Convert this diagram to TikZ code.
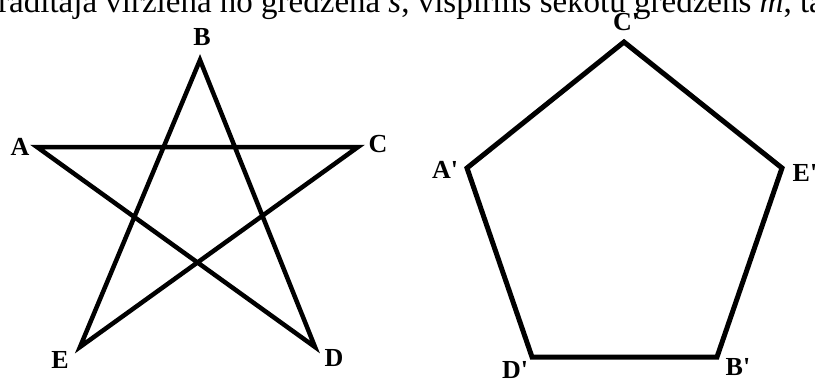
\documentclass[tikz,border=0pt]{standalone}
\usepackage{fontspec}
\setmainfont{Liberation Serif}
\usepackage{tikz}
\newcommand{\pr}{\textquotesingle}

\begin{document}
\begin{tikzpicture}[x=1pt, y=-1pt,
  edge/.style={line width=4.5pt, line join=miter, line cap=round},
  lbl/.style={font=\fontsize{26}{26}\selectfont\bfseries, inner sep=0pt},
  txt/.style={font=\fontsize{33}{33}\selectfont, inner sep=0pt, anchor=base west}]
\clip (0,0) rectangle (815,381);
\useasboundingbox (0,0) rectangle (815,381);
% cut-off line of text above the figures
\node[txt] (line) at (-2,12) {radītāja virzienā no gredzena \textit{s}, vispirms sekotu gredzens \textit{m}, tad ja};
% star
\coordinate (A) at (37,147);
\coordinate (B) at (200,60);
\coordinate (C) at (358,147);
\coordinate (D) at (315,347);
\coordinate (E) at (80,347);
\draw[edge] (A) -- (C) -- (E) -- (B) -- (D) -- cycle;
\node[lbl] (la) at (20,147) {A};
\node[lbl] (lb) at (202,37) {B};
\node[lbl] (lc) at (378,144) {C};
\node[lbl] (ld) at (334,358) {D};
\node[lbl] (le) at (60,360) {E};
% pentagon
\coordinate (A') at (467,168);
\coordinate (C') at (624,42);
\coordinate (E') at (782,168);
\coordinate (B') at (717,357);
\coordinate (D') at (532,357);
\draw[edge, line width=5pt] (A') -- (C') -- (E') -- (B') -- (D') -- cycle;
\node[lbl] (la') at (445,170) {A\pr};
\node[lbl] (lc') at (626,22) {C\pr};
\node[lbl] (le') at (805,173) {E\pr};
\node[lbl] (lb') at (738,367) {B\pr};
\node[lbl] (ld') at (515,370) {D\pr};
\end{tikzpicture}
\end{document}
